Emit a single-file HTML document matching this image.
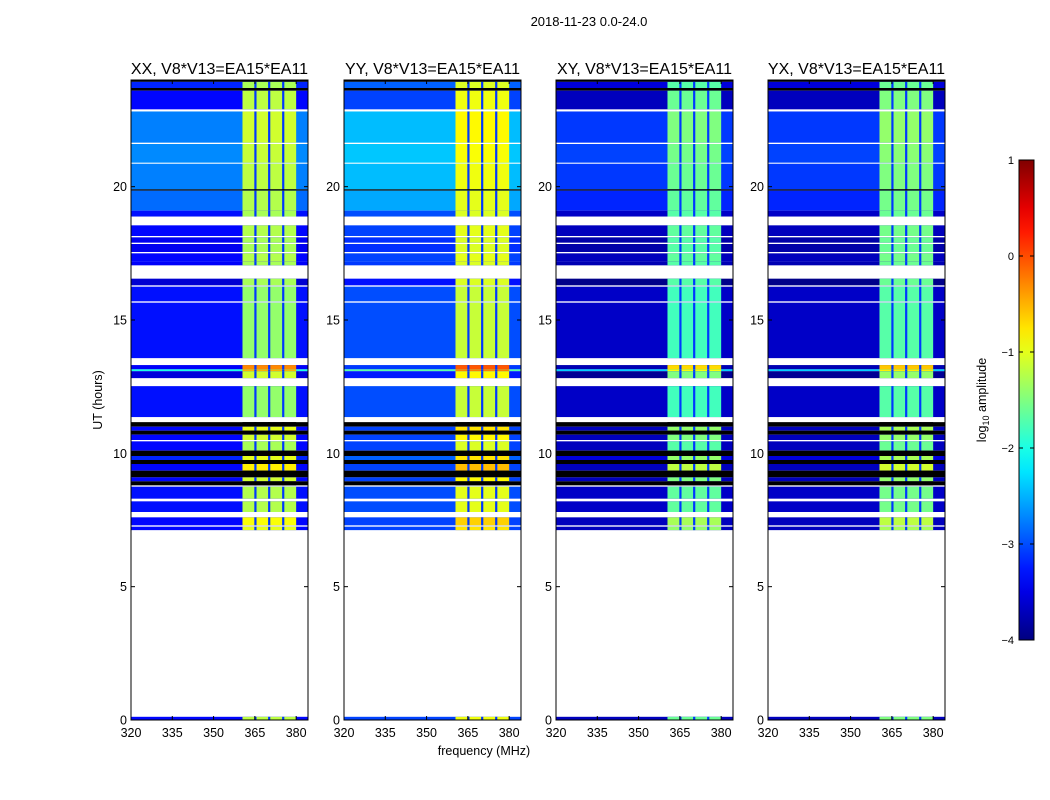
<!DOCTYPE html>
<html><head><meta charset="utf-8"><style>
body{margin:0;background:#fff;font-family:"Liberation Sans",sans-serif}
#wrap{position:relative;width:1050px;height:800px}
.t{position:absolute;white-space:nowrap;color:#000}
</style></head><body>
<div id="wrap">
<div class="t" style="left:0;width:1178px;text-align:center;top:14px;font-size:13px">2018-11-23 0.0-24.0</div>
<svg id="svg" width="1050" height="800" style="position:absolute;left:0;top:0"></svg>
</div>
<script>
const panelTitles=["XX, V8*V13=EA15*EA11","YY, V8*V13=EA15*EA11","XY, V8*V13=EA15*EA11","YX, V8*V13=EA15*EA11"];
const xTicks=[320,335,350,365,380];
const yTicks=[0,5,10,15,20];
const cbTicks=[1,0,-1,-2,-3,-4];
// rows: top hour, bottom hour, background level, band level (null = no data, -9 = black)
const rowTop=[24,23.93,23.7,23.6,22.9,22.82,21.65,21.6,20.9,20.86,19.9,19.85,19.1,18.88,18.55,18.15,18.1,17.9,17.85,17.55,17.5,17.18,17.05,16.55,16.3,16.25,15.7,15.65,13.57,13.31,13.15,13.08,12.82,12.52,11.36,11.17,11.0,10.85,10.7,10.5,10.45,10.1,9.9,9.75,9.6,9.35,9.1,8.95,8.8,8.75,8.3,8.2,7.8,7.6,7.3,7.25,7.12,0.12];
const rowBot=[23.93,23.7,23.6,22.9,22.82,21.65,21.6,20.9,20.86,19.9,19.85,19.1,18.88,18.55,18.15,18.1,17.9,17.85,17.55,17.5,17.18,17.05,16.55,16.3,16.25,15.7,15.65,13.57,13.31,13.15,13.08,12.82,12.52,11.36,11.17,11.0,10.85,10.7,10.5,10.45,10.1,9.9,9.75,9.6,9.35,9.1,8.95,8.8,8.75,8.3,8.2,7.8,7.6,7.3,7.25,7.12,0.12,0];
const rowBg=[-9,-3.2,-9,-3.35,null,-2.75,null,-2.7,null,-2.75,-9,-2.85,-3.3,null,-3.35,null,-3.45,null,-3.45,null,-3.35,-3.4,null,-3.6,null,-3.3,null,-3.3,null,-3.4,-2.0,-3.55,null,-3.3,null,-9,-3.35,-9,-3.35,null,-3.35,-9,-3.2,-9,-3.35,-9,-3.35,-9,null,-3.3,null,-3.3,null,-3.35,null,-3.35,null,-3.35];
const rowBand=[-9,-1.3,-9,-1.2,null,-1.1,null,-1.15,null,-1.2,-9,-1.25,-1.3,null,-1.25,null,-1.3,null,-1.3,null,-1.25,-1.3,null,-1.3,null,-1.4,null,-1.4,null,-0.3,-0.5,-1.1,null,-1.4,null,-9,-1.0,-9,-1.1,null,-1.3,-9,-1.0,-9,-0.8,-9,-1.1,-9,null,-1.25,null,-1.25,null,-0.9,null,-1.0,null,-1.2];
const bgOffset=[0,0.3,-0.35,-0.35];
const bandOffset=[0,0.25,-0.4,-0.3];
const bandStart=360.5, bandEnd=380;
const gapFreqs=[365.2,370.2,375.3];

const svg=document.getElementById('svg');
const NS='http://www.w3.org/2000/svg';
function el(tag,attrs,parent){const e=document.createElementNS(NS,tag);for(const k in attrs)e.setAttribute(k,attrs[k]);(parent||svg).appendChild(e);return e;}
function jet(v){let t=(v+4)/5;t=Math.max(0,Math.min(1,t));
 const f=x=>Math.max(0,Math.min(1,x));
 const r=f(Math.min(4*t-1.5,-4*t+4.5)),g=f(Math.min(4*t-0.5,-4*t+3.5)),b=f(Math.min(4*t+0.5,-4*t+2.5));
 return `rgb(${Math.round(r*255)},${Math.round(g*255)},${Math.round(b*255)})`;}
function col(v){return v===-9?'#000':jet(v);}
const panelX=[131,344,556,768], PW=177, PT=80, PB=720;
const fx=(f,i)=>panelX[i]+(f-320)/(384.3-320)*PW;
const hy=h=>PB-(h/24)*(PB-PT);

panelX.forEach((x0,i)=>{
 const g=el('g',{});
 
 
 for(let r=0;r<rowTop.length;r++){
  if(rowBg[r]===null)continue;
  const y1=hy(rowTop[r]),y2=hy(rowBot[r]),h=Math.max(y2-y1,0.8);
  const bg=rowBg[r]===-9?-9:rowBg[r]+bgOffset[i];
  const bd=rowBand[r]===-9?-9:rowBand[r]+bandOffset[i];
  const a=el('rect',{x:x0,y:y1,width:PW,height:h,fill:col(bg)},g);
  
  
  const b=el('rect',{x:fx(bandStart,i),y:y1,width:fx(bandEnd,i)-fx(bandStart,i),height:h,fill:col(bd)},g);
  
  
  gapFreqs.forEach(gf=>{
   const c=el('rect',{x:fx(gf-0.4,i),y:y1,width:fx(gf+0.4,i)-fx(gf-0.4,i),height:h,fill:col(bg===-9?-9:-3.1)},g);
   
   
  });
 }
 const fr=el('rect',{x:x0,y:PT,width:PW,height:PB-PT,fill:'none',stroke:'#000','stroke-width':1});
 
 
 xTicks.forEach(t=>{const X=fx(t,i);
  el('line',{x1:X,x2:X,y1:PB,y2:PB-4,stroke:'#000'});el('line',{x1:X,x2:X,y1:PT,y2:PT+4,stroke:'#000'});
  const tx=el('text',{x:X,y:PB+17,'font-size':12.5,'text-anchor':'middle','font-family':'Liberation Sans'});tx.textContent=t;
  });
 yTicks.forEach(t=>{const Y=hy(t);
  el('line',{x1:x0,x2:x0+4,y1:Y,y2:Y,stroke:'#000'});el('line',{x1:x0+PW,x2:x0+PW-4,y1:Y,y2:Y,stroke:'#000'});
  const tx=el('text',{x:x0-4,y:Y+4.5,'font-size':12.5,'text-anchor':'end','font-family':'Liberation Sans'});tx.textContent=t;
  });
 const tt=el('text',{x:x0+PW/2,y:74,'font-size':16,'text-anchor':'middle','font-family':'Liberation Sans'});tt.textContent=panelTitles[i];
 
});
let t=el('text',{x:484,y:755,'font-size':12.5,'text-anchor':'middle','font-family':'Liberation Sans'});t.textContent='frequency (MHz)';

t=el('text',{x:0,y:0,'font-size':12.5,'text-anchor':'middle','font-family':'Liberation Sans',transform:'translate(102,400) rotate(-90)'});t.textContent='UT (hours)';

// colorbar
const defs=el('defs',{});const lg=el('linearGradient',{id:'jg',x1:0,y1:1,x2:0,y2:0},defs);
for(let k=0;k<=20;k++)el('stop',{offset:k/20,'stop-color':jet(-4+5*k/20)},lg);
const cy=v=>640-(v+4)/5*480;
const cb=el('rect',{x:1019,y:160,width:15,height:480,fill:'url(#jg)',stroke:'#000'});

cbTicks.forEach(v=>{const Y=cy(v);
 el('line',{x1:1019,x2:1023,y1:Y,y2:Y,stroke:'#000'});el('line',{x1:1034,x2:1030,y1:Y,y2:Y,stroke:'#000'});
 const tx=el('text',{x:1014,y:Y+4,'font-size':11,'text-anchor':'end','font-family':'Liberation Sans'});tx.textContent=v<0?'\u2212'+(-v):v;
 });
t=el('text',{x:0,y:0,'font-size':12.5,'text-anchor':'middle','font-family':'Liberation Sans',transform:'translate(986,400) rotate(-90)'});
t.innerHTML='log<tspan font-size="9" dy="3">10</tspan><tspan dy="-3"> amplitude</tspan>';

</script>
</body></html>
